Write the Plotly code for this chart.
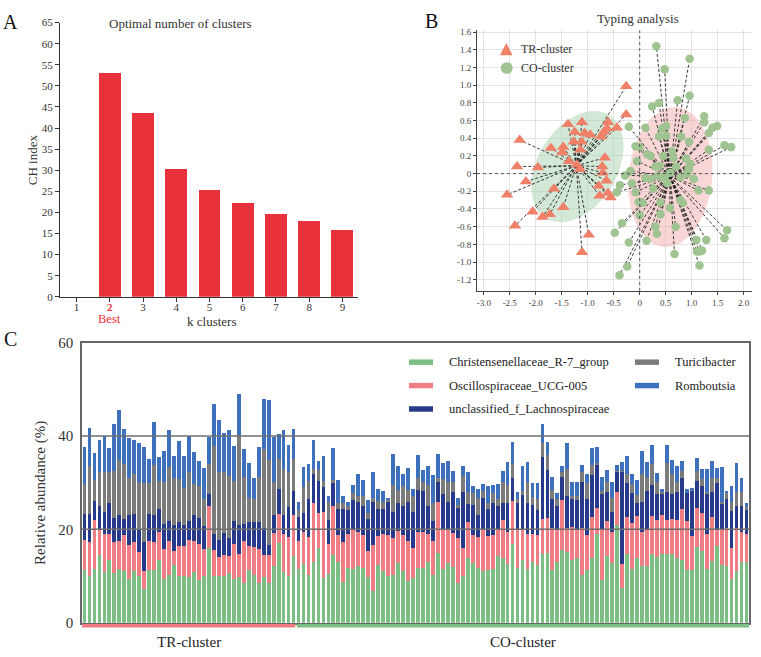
import numpy as np
import plotly.graph_objects as go

W, H = 761, 657
def px(x): return x / W
def py(y): return 1 - y / H

FONT = "Liberation Serif, Times New Roman, serif"
RED = "#E8313A"

# ---------------- Panel A data ----------------
k_ticks = [1, 2, 3, 4, 5, 6, 7, 8, 9]
k_values = [2, 3, 4, 5, 6, 7, 8, 9]
ch_index = [53.0, 43.6, 30.3, 25.4, 22.2, 19.7, 18.0, 15.9]
best_k = 2

# ---------------- Panel B data ----------------
tr_x = [-0.26, -0.26, -0.44, -0.61, -0.63, -0.69, -0.74, -1.11, -1.38, -1.25, -1.06, -0.95, -1.27, -1.12,
        -1.47, -1.49, -1.71, -2.31, -1.14, -1.36, -0.67, -2.36, -1.96, -1.21, -1.15, -0.72, -0.71, -2.19,
        -2.55, -1.65, -0.64, -0.79, -0.77, -0.61, -0.56, -1.47, -2.06, -1.73, -1.87, -2.40, -0.98, -1.11]
tr_y = [0.99, 0.67, 0.52, 0.58, 0.51, 0.47, 0.42, 0.58, 0.56, 0.47, 0.46, 0.44, 0.36, 0.36,
        0.30, 0.24, 0.29, 0.38, 0.27, 0.14, 0.18, 0.08, 0.07, 0.10, 0.05, 0.08, 0.01, -0.09,
        -0.24, -0.17, -0.08, -0.14, -0.25, -0.22, -0.27, -0.38, -0.43, -0.46, -0.49, -0.59, -0.69, -0.89]
co_x = [0.32, 0.96, 0.48, 0.96, 0.73, 0.37, 0.24, -0.21, 0.11, 0.43, 0.51, 0.87, 1.24, 1.24, 1.40, 1.49,
        1.33, 0.37, 0.51, 0.95, 1.33, 1.63, 1.76, -0.08, 0.00, 0.14, 0.21, 0.45, 0.65, 0.89, -0.05, 0.38,
        0.97, 0.94, -0.18, 0.59, 0.91, -0.28, 0.11, 0.21, 0.35, 0.49, 0.78, 1.04, -0.38, -0.15, 0.26, 0.53,
        1.13, 1.33, -0.44, -0.08, -0.02, 0.06, 0.40, 0.58, 0.78, 0.83, 0.40, 0.00, -0.34, -0.48, 0.30, 0.69,
        0.33, -0.21, 0.13, 1.09, 1.28, 1.63, 1.68, 1.10, 1.15, 1.20, 0.67, -0.24, 1.15, -0.39, 0.95, 0.30,
        0.70, 0.45, 0.62, 0.80]
co_y = [1.44, 1.30, 1.18, 0.88, 0.83, 0.80, 0.76, 0.53, 0.52, 0.51, 0.54, 0.63, 0.65, 0.58, 0.52, 0.54,
        0.46, 0.42, 0.43, 0.36, 0.27, 0.32, 0.30, 0.31, 0.30, 0.22, 0.20, 0.20, 0.18, 0.17, 0.14, 0.09,
        0.11, 0.06, 0.03, 0.01, 0.00, -0.02, -0.05, -0.06, -0.02, -0.03, -0.04, -0.06, -0.13, -0.11, -0.17, -0.11,
        -0.19, -0.19, -0.21, -0.21, -0.32, -0.33, -0.33, -0.39, -0.30, -0.33, -0.46, -0.47, -0.56, -0.67, -0.60, -0.60,
        -0.68, -0.78, -0.76, -0.75, -0.75, -0.73, -0.64, -0.88, -0.88, -0.87, -0.91, -1.05, -1.04, -1.15, 0.05, 0.08,
        0.08, -0.05, 0.25, 0.42]
tr_center = (-1.22, 0.09)
co_center = (0.58, -0.03)
# confidence ellipses: centre, semi-axis vector 1, semi-axis vector 2 (data units)
tr_ellipse = dict(c=(-1.20, 0.08), v1=(0.59, 0.59), v2=(0.667, -0.22))
co_ellipse = dict(c=(0.59, -0.04), v1=(0.13, 0.79), v2=(0.80, -0.044))

# ---------------- Panel C data (cumulative tops of each stacked segment) ----------------
n_tr = 43
green_top = [11.3, 10.1, 11.5, 14.4, 10.9, 13.4, 10.6, 11.4, 11.0, 9.4, 11.0, 10.1, 7.2, 11.3, 11.3, 13.4, 9.4,
             10.2, 12.4, 10.1, 9.9, 9.7, 10.8, 9.2, 9.9, 16.0, 10.1, 9.9, 9.9, 10.6, 9.4, 9.7, 8.5, 11.3, 10.2,
             8.6, 9.7, 8.4, 12.2, 17.0, 10.8, 10.1, 14.3,
             11.5, 12.6, 10.3, 13.1, 16.0, 9.5, 10.4, 14.6, 13.1, 8.7, 11.8, 11.5, 12.2, 11.7, 9.7, 6.8, 12.3,
             11.1, 10.1, 10.3, 12.8, 11.0, 8.9, 9.6, 11.8, 11.7, 13.1, 10.3, 14.9, 11.5, 12.8, 12.0, 8.5, 10.1,
             13.8, 12.8, 11.7, 11.1, 11.2, 11.5, 14.2, 13.8, 12.6, 16.9, 11.8, 13.4, 11.5, 13.1, 12.4, 14.8,
             14.9, 11.3, 13.1, 15.5, 15.1, 13.5, 13.8, 10.3, 11.3, 13.8, 19.0, 9.2, 14.2, 12.7, 21.0, 7.4, 14.7,
             11.5, 13.8, 12.2, 12.2, 14.8, 14.1, 14.7, 14.7, 14.8, 13.8, 13.4, 11.3, 11.2, 16.3, 15.4, 11.5,
             13.2, 16.5, 12.3, 12.2, 9.4, 11.1, 13.1, 13.1]
pink_top = [17.7, 17.3, 22.1, 19.8, 19.1, 19.1, 17.3, 17.4, 18.8, 16.7, 17.3, 15.1, 11.1, 17.5, 17.3, 19.5, 15.7,
            17.5, 15.3, 16.4, 16.4, 17.7, 17.4, 16.8, 15.8, 25.0, 15.5, 14.1, 14.4, 14.3, 16.8, 14.8, 17.5, 16.5,
            16.3, 15.8, 14.6, 14.5, 19.3, 23.3, 18.9, 18.4, 23.0,
            17.6, 19.5, 18.3, 25.7, 23.5, 23.8, 16.9, 24.9, 18.8, 17.2, 19.0, 19.8, 19.4, 18.8, 15.3, 16.7, 18.6,
            18.9, 18.8, 18.1, 19.6, 18.8, 17.4, 16.0, 19.4, 19.4, 19.1, 17.4, 25.9, 20.0, 20.1, 19.3, 18.2, 16.1,
            21.5, 18.8, 18.4, 20.1, 18.5, 18.8, 20.1, 22.1, 19.4, 26.0, 20.0, 20.1, 19.0, 19.1, 18.8, 22.2,
            22.4, 20.3, 20.1, 26.2, 20.3, 20.5, 20.1, 20.3, 18.8, 22.7, 24.5, 20.0, 21.7, 19.4, 28.1, 12.5, 22.7,
            21.3, 22.9, 19.4, 20.0, 22.8, 22.1, 23.1, 22.1, 22.2, 21.9, 24.3, 21.7, 18.5, 24.5, 23.4, 18.9,
            22.7, 20.1, 20.1, 20.3, 16.1, 20.3, 19.4, 18.9]
navy_top = [23.3, 23.2, 26.0, 25.0, 23.7, 25.6, 22.4, 23.0, 22.3, 23.0, 23.3, 20.0, 17.2, 23.2, 23.1, 24.4, 21.2,
            21.8, 20.9, 21.6, 20.9, 21.8, 23.1, 22.4, 20.7, 27.6, 19.1, 17.7, 19.3, 18.1, 21.7, 21.0, 21.1, 21.6,
            21.5, 21.6, 20.3, 16.6, 23.0, 28.7, 23.0, 24.8, 28.2,
            22.6, 23.5, 26.4, 31.9, 30.4, 29.0, 22.1, 30.0, 24.4, 24.4, 24.1, 26.2, 25.8, 25.0, 22.2, 25.9, 24.3,
            24.4, 26.0, 23.8, 25.6, 25.0, 25.8, 23.8, 28.5, 28.3, 24.9, 21.7, 30.2, 27.6, 25.9, 28.1, 24.5, 28.1,
            25.5, 25.3, 23.1, 26.7, 24.3, 25.7, 24.9, 25.6, 25.7, 30.9, 25.7, 27.4, 25.6, 25.3, 24.2, 35.6,
            32.8, 26.4, 25.0, 31.3, 27.1, 26.4, 26.2, 30.2, 26.4, 31.6, 33.9, 27.8, 28.1, 23.8, 32.5, 32.5, 29.9,
            27.8, 25.7, 25.8, 28.3, 29.5, 27.6, 27.8, 27.9, 27.6, 27.9, 31.0, 27.8, 28.5, 30.4, 29.2, 27.8,
            27.9, 30.0, 25.7, 26.4, 24.0, 25.1, 25.0, 24.3]
gray_top = [29.7, 33.5, 30.6, 32.2, 32.2, 32.2, 32.4, 34.8, 34.0, 31.0, 31.9, 30.1, 29.9, 29.9, 33.8, 30.3, 30.1,
            33.4, 31.1, 30.8, 28.9, 32.2, 29.7, 29.2, 26.6, 34.1, 37.8, 32.2, 32.2, 31.5, 30.3, 40.2, 31.3, 26.8,
            26.5, 31.3, 37.2, 34.9, 30.1, 35.1, 32.9, 32.2, 35.1,
            24.2, 29.0, 30.4, 33.0, 32.8, 30.3, 25.9, 30.6, 25.7, 25.7, 25.0, 27.8, 27.2, 27.1, 23.6, 26.7, 26.0,
            25.9, 26.2, 29.5, 28.5, 29.2, 28.5, 27.1, 30.9, 30.2, 29.5, 25.7, 31.1, 30.7, 30.2, 30.1, 25.3, 31.5,
            28.0, 27.8, 26.7, 28.3, 25.6, 27.8, 26.5, 30.2, 29.5, 34.0, 26.5, 28.3, 30.2, 26.9, 26.4, 38.5,
            36.0, 28.5, 26.4, 32.2, 33.0, 27.2, 27.2, 32.3, 29.9, 33.8, 34.2, 28.2, 30.2, 26.7, 32.6, 32.6, 31.8,
            29.7, 27.4, 31.8, 31.3, 34.0, 30.2, 28.0, 34.2, 31.9, 30.2, 32.6, 27.8, 28.7, 32.4, 30.7, 27.9,
            31.1, 31.1, 25.9, 27.8, 25.8, 27.9, 27.9, 24.7]
blue_top = [37.6, 41.8, 36.3, 39.1, 40.0, 37.4, 42.6, 45.5, 41.5, 39.5, 39.1, 38.5, 37.6, 35.1, 43.0, 35.6, 36.7,
            41.2, 35.7, 39.0, 35.8, 39.9, 36.5, 34.7, 33.1, 39.8, 46.8, 43.4, 40.7, 41.2, 37.8, 49.1, 37.2, 34.2,
            31.0, 37.6, 48.0, 47.7, 39.8, 40.4, 41.3, 38.0, 41.4,
            25.9, 33.4, 33.9, 39.2, 34.6, 35.8, 27.2, 37.4, 30.6, 27.1, 25.9, 29.5, 31.8, 30.6, 26.3, 32.2, 28.7,
            28.3, 26.7, 36.1, 33.5, 31.9, 33.1, 28.6, 35.9, 32.8, 33.5, 31.6, 36.2, 34.2, 34.7, 32.6, 26.7, 33.5,
            32.3, 29.3, 28.6, 29.7, 29.3, 29.5, 29.7, 32.6, 34.5, 38.7, 28.1, 33.5, 34.4, 30.0, 30.0, 42.5,
            38.7, 31.2, 27.8, 33.5, 38.5, 30.1, 30.1, 33.8, 31.8, 37.5, 37.6, 31.2, 32.8, 30.2, 33.7, 34.5, 35.8,
            31.8, 30.6, 36.8, 34.4, 38.1, 32.1, 28.7, 38.1, 34.9, 33.5, 34.7, 28.6, 28.8, 35.3, 33.0, 33.0,
            34.6, 33.2, 33.3, 28.3, 29.2, 34.2, 30.9, 25.7]
genera = ["Christensenellaceae_R-7_group", "Oscillospiraceae_UCG-005", "unclassified_f_Lachnospiraceae",
          "Turicibacter", "Romboutsia"]
genus_colors = ["#7DBE84", "#F07D84", "#26398A", "#7B7B7B", "#3D71BD"]
groups = ["TR-cluster", "CO-cluster"]
group_colors = ["#F07A80", "#7DBE84"]

fig = go.Figure()

# ---- Panel A ----
fig.add_trace(go.Bar(x=k_values, y=ch_index, marker=dict(color=RED, line=dict(width=0)), width=0.66,
                     xaxis="x", yaxis="y", showlegend=False))

# ---- Panel B ----
def ellipse(e):
    t = np.linspace(0, 2 * np.pi, 120)
    cx, cy = e["c"]
    x = cx + e["v1"][0] * np.cos(t) + e["v2"][0] * np.sin(t)
    y = cy + e["v1"][1] * np.cos(t) + e["v2"][1] * np.sin(t)
    return x, y

ex, ey = ellipse(tr_ellipse)
fig.add_trace(go.Scatter(x=ex, y=ey, mode="lines", fill="toself", fillcolor="rgba(170,210,176,0.5)",
                         line=dict(width=0), xaxis="x2", yaxis="y2", showlegend=False, hoverinfo="skip"))
ex, ey = ellipse(co_ellipse)
fig.add_trace(go.Scatter(x=ex, y=ey, mode="lines", fill="toself", fillcolor="rgba(242,170,170,0.48)",
                         line=dict(width=0), xaxis="x2", yaxis="y2", showlegend=False, hoverinfo="skip"))

def spokes(xs, ys, c):
    lx, ly = [], []
    for a, b in zip(xs, ys):
        lx += [c[0], a, None]
        ly += [c[1], b, None]
    return lx, ly

for xs, ys, c in [(tr_x, tr_y, tr_center), (co_x, co_y, co_center)]:
    lx, ly = spokes(xs, ys, c)
    fig.add_trace(go.Scatter(x=lx, y=ly, mode="lines", line=dict(color="#222", width=0.9, dash="3px,2px"),
                             xaxis="x2", yaxis="y2", showlegend=False, hoverinfo="skip"))

fig.add_trace(go.Scatter(x=co_x, y=co_y, mode="markers", name="CO-cluster",
                         marker=dict(symbol="circle", size=8.5, color="#A0C392", line=dict(width=0)),
                         xaxis="x2", yaxis="y2", showlegend=False))
fig.add_trace(go.Scatter(x=tr_x, y=tr_y, mode="markers", name="TR-cluster",
                         marker=dict(symbol="triangle-up", size=11, color="#F08068", line=dict(width=0)),
                         xaxis="x2", yaxis="y2", showlegend=False))

# ---- Panel C ----
tops = [green_top, pink_top, navy_top, gray_top, blue_top]
n = len(green_top)
idx = list(range(n))
prev = np.zeros(n)
for name, col, top in zip(genera, genus_colors, tops):
    t = np.array(top)
    seg = np.clip(t - prev, 0, None)
    fig.add_trace(go.Bar(x=idx, y=seg, name=name, marker=dict(color=col, line=dict(width=0)), width=0.76,
                         xaxis="x3", yaxis="y3", showlegend=False))
    prev = np.maximum(prev, t)

# ---------------- layout ----------------
xt_a = []
for k in k_ticks:
    xt_a.append(f"<b><span style='color:{RED}'>{k}</span></b>" if k == best_k else str(k))

yb = [round(-1.2 + 0.2 * i, 1) for i in range(15)]
xb = [round(-3.0 + 0.5 * i, 1) for i in range(11)]
fmt = lambda v: "0" if abs(v) < 1e-9 else f"{v:.1f}"

shapes = []
annotations = []

# panel C gridlines drawn above the bars
for yv in [20, 40]:
    shapes.append(dict(type="line", xref="x3 domain", x0=0, x1=1, yref="y3", y0=yv, y1=yv,
                       line=dict(color="#6E6E6E", width=1.4), layer="above"))
# group bars under panel C
shapes.append(dict(type="rect", xref="x3", x0=-0.5, x1=n_tr - 0.5 - 0.15, yref="paper", y0=py(635), y1=py(631.5),
                   fillcolor=group_colors[0], line=dict(width=0)))
shapes.append(dict(type="rect", xref="x3", x0=n_tr - 0.5 + 0.15, x1=n - 0.5, yref="paper", y0=py(635), y1=py(631.5),
                   fillcolor=group_colors[1], line=dict(width=0)))
annotations.append(dict(text=groups[0], x=(n_tr - 1) / 2, xref="x3", y=py(650), yref="paper",
                        font=dict(size=15, color="#222", family=FONT)))
annotations.append(dict(text=groups[1], x=(n_tr - 0.5 + n - 0.5) / 2, xref="x3", y=py(650), yref="paper",
                        font=dict(size=15, color="#222", family=FONT)))

# panel C legend
leg_pos = [(409, 363), (409, 387), (409, 411), (635, 363), (635, 387)]
for (lx, ly), name, col in zip(leg_pos, genera, genus_colors):
    shapes.append(dict(type="rect", xref="paper", yref="paper", x0=px(lx), x1=px(lx + 24),
                       y0=py(ly + 2.8), y1=py(ly - 2.8), fillcolor=col, line=dict(width=0)))
    annotations.append(dict(text=name, x=px(lx + 38), y=py(ly), xanchor="left",
                            font=dict(size=12.5, color="#222", family=FONT)))

# panel B legend
shapes.append(dict(type="path", xref="paper", yref="paper",
                   path=f"M {px(500)},{py(48.5)} L {px(512.6)},{py(48.5)} L {px(506.3)},{py(36)} Z",
                   fillcolor="#F08068", line=dict(width=0)))
shapes.append(dict(type="circle", xref="paper", yref="paper", x0=px(500.7), x1=px(512.7), y0=py(67.5), y1=py(55.5),
                   fillcolor="#A0C392", line=dict(width=0)))
annotations.append(dict(text="TR-cluster", x=px(519), y=py(42), xanchor="left",
                        font=dict(size=12, color="#333", family=FONT)))
annotations.append(dict(text="CO-cluster", x=px(519), y=py(61.5), xanchor="left",
                        font=dict(size=12, color="#333", family=FONT)))
# zero reference lines panel B
shapes.append(dict(type="line", xref="x2", x0=0, x1=0, yref="y2 domain", y0=0, y1=1,
                   line=dict(color="#555", width=1, dash="dot")))
shapes.append(dict(type="line", xref="x2 domain", x0=0, x1=1, yref="y2", y0=0, y1=0,
                   line=dict(color="#555", width=1, dash="dot")))

# titles & labels
annotations += [
    dict(text="A", x=px(10.5), y=py(14), font=dict(size=20, color="#111", family=FONT)),
    dict(text="B", x=px(431), y=py(13), font=dict(size=20, color="#111", family=FONT)),
    dict(text="C", x=px(10.5), y=py(339), font=dict(size=20, color="#111", family=FONT)),
    dict(text="Optimal number of clusters", x=px(180), y=py(16), font=dict(size=13, color="#333", family=FONT)),
    dict(text="Typing analysis", x=px(638), y=py(11), font=dict(size=13, color="#333", family=FONT)),
    dict(text="CH index", x=px(32), y=py(156), textangle=-90, font=dict(size=13, color="#333", family=FONT)),
    dict(text="k clusters", x=px(211), y=py(321), font=dict(size=13, color="#333", family=FONT)),
    dict(text="Best", x=best_k, xref="x", y=py(318.5), font=dict(size=12.5, color=RED, family=FONT)),
    dict(text="Relative abundance (%)", x=px(41), y=py(497), textangle=-90,
         font=dict(size=15, color="#333", family=FONT)),
]
for a in annotations:
    a.setdefault("xref", "paper")
    a.setdefault("yref", "paper")
    a.setdefault("showarrow", False)
    a.setdefault("xanchor", "center")
    a.setdefault("yanchor", "middle")

fig.update_layout(
    width=W, height=H, margin=dict(l=0, r=0, t=0, b=0),
    paper_bgcolor="white", plot_bgcolor="white",
    barmode="stack", showlegend=False,
    font=dict(family=FONT, color="#333"),
    xaxis=dict(domain=[px(60), px(358)], anchor="y", range=[0.5, 9.47], tickvals=k_ticks, ticktext=xt_a,
               showline=True, linecolor="#333", linewidth=1, ticks="outside", ticklen=4, tickcolor="#333",
               ticklabelstandoff=-4,
               tickfont=dict(size=11, color="#333"), showgrid=False, zeroline=False),
    yaxis=dict(domain=[py(296), py(15)], anchor="x", range=[0, 65], tickvals=list(range(0, 66, 5)),
               showline=True, linecolor="#333", linewidth=1, ticks="outside", ticklen=4, tickcolor="#333",
               tickfont=dict(size=11, color="#333"), showgrid=False, zeroline=False),
    xaxis2=dict(domain=[px(477), px(752)], anchor="y2", range=[-3.13, 2.16], tickvals=xb,
                ticktext=[fmt(v) for v in xb], showline=True, linecolor="#444", linewidth=1,
                ticks="outside", ticklen=3, tickcolor="#444", tickfont=dict(size=9, color="#444"),
                showgrid=True, gridcolor="#E4E4E4", gridwidth=1, zeroline=False),
    yaxis2=dict(domain=[py(290), py(23)], anchor="x2", range=[-1.327, 1.62], tickvals=yb,
                ticktext=[fmt(v) for v in yb], showline=True, linecolor="#444", linewidth=1,
                ticks="outside", ticklen=3, tickcolor="#444", tickfont=dict(size=9, color="#444"),
                showgrid=True, gridcolor="#E4E4E4", gridwidth=1, zeroline=False),
    xaxis3=dict(domain=[px(82), px(749)], anchor="y3", range=[-0.5, n - 0.5], showticklabels=False,
                ticks="", showline=True, linecolor="#666", linewidth=1.5, mirror=True, showgrid=False,
                zeroline=False),
    yaxis3=dict(domain=[py(630), py(343)], anchor="x3", range=[0, 60], tickvals=[0, 20, 40, 60],
                ticks="", ticklabelstandoff=4, showline=True, linecolor="#666", linewidth=1.5, mirror=True,
                tickfont=dict(size=15, color="#333"), showgrid=False, zeroline=False),
    shapes=shapes, annotations=annotations,
)

fig.write_html("out.html")
